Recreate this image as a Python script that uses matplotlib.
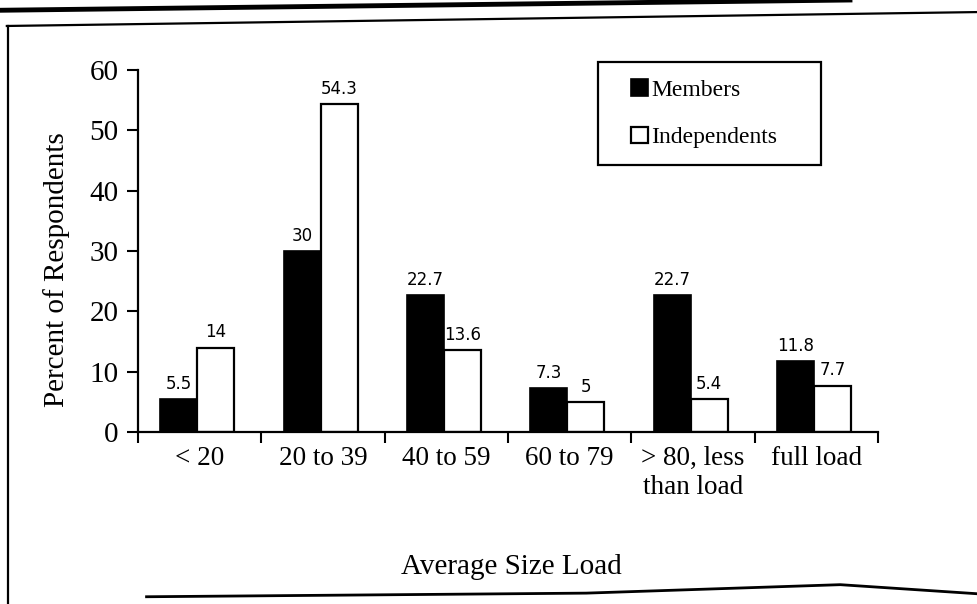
import matplotlib.pyplot as plt
import numpy as np
from matplotlib.lines import Line2D
from matplotlib.patches import Rectangle

categories = ['< 20', '20 to 39', '40 to 59', '60 to 79', '> 80, less\nthan load', 'full load']
members = [5.5, 30, 22.7, 7.3, 22.7, 11.8]
independents = [14, 54.3, 13.6, 5, 5.4, 7.7]
member_labels = ['5.5', '30', '22.7', '7.3', '22.7', '11.8']
independent_labels = ['14', '54.3', '13.6', '5', '5.4', '7.7']

serif = 'Liberation Serif'
sans = 'DejaVu Sans'

fig = plt.figure(figsize=(9.77, 6.04), dpi=100)
ax = fig.add_axes([0.1413, 0.2848, 0.7574, 0.5993])

x = np.arange(len(categories))
w = 0.3
b1 = ax.bar(x - w / 2 - 0.02, members, w, color='black', edgecolor='black',
            linewidth=1.2, label='Members')
b2 = ax.bar(x + w / 2 - 0.02, independents, w, color='white', edgecolor='black',
            linewidth=1.6, label='Independents')

for rect, lab in zip(b1, member_labels):
    ax.text(rect.get_x() + rect.get_width() / 2, rect.get_height() + 1.0, lab,
            ha='center', va='bottom', fontsize=12, family=sans)
for rect, lab in zip(b2, independent_labels):
    ax.text(rect.get_x() + rect.get_width() / 2, rect.get_height() + 1.0, lab,
            ha='center', va='bottom', fontsize=12, family=sans)

ax.set_xlim(-0.5, len(categories) - 0.5)
ax.set_ylim(0, 60)
ax.set_yticks(range(0, 61, 10))
ax.set_yticklabels([str(v) for v in range(0, 61, 10)], family=serif, fontsize=21)

# category labels sit between the tick marks, which mark the group edges
ax.set_xticks(x)
ax.set_xticklabels(categories, family=serif, fontsize=19.5, linespacing=1.2)
ax.tick_params(axis='x', which='major', length=0, pad=10)
ax.set_xticks(np.arange(-0.5, len(categories)), minor=True)
ax.tick_params(axis='x', which='minor', length=8, width=1.5, direction='out')
ax.tick_params(axis='y', length=8, width=1.5, direction='out', pad=6)

for s in ['top', 'right']:
    ax.spines[s].set_visible(False)
for s in ['left', 'bottom']:
    ax.spines[s].set_linewidth(1.6)

fig.text(0.058, 0.553, 'Percent of Respondents', family=serif, fontsize=21,
         rotation=90, ha='center', va='center')
fig.text(0.523, 0.061, 'Average Size Load', family=serif, fontsize=21,
         ha='center', va='center')

# legend box drawn separately so the inner spacing can match
fig.add_artist(Rectangle((598 / 977, 1 - 165 / 604), 223 / 977, 103 / 604,
                         transform=fig.transFigure, fill=False,
                         edgecolor='black', linewidth=1.6))
leg = ax.legend(loc='upper left', bbox_to_anchor=(631 / 977, 1 - 79 / 604),
                bbox_transform=fig.transFigure, frameon=False,
                handlelength=0.7, handleheight=0.7, handletextpad=0.15,
                labelspacing=1.1, borderpad=0, borderaxespad=0,
                prop={'family': serif, 'size': 17})

# scanned page frame
fig.add_artist(Line2D([0, 0.87], [0.983, 1.0], color='black', linewidth=3.5,
                      transform=fig.transFigure))
fig.add_artist(Line2D([0.007, 1], [0.957, 0.98], color='black', linewidth=1.6,
                      transform=fig.transFigure))
fig.add_artist(Line2D([0.008, 0.008], [0.957, 0.0], color='black', linewidth=1.6,
                      transform=fig.transFigure))
fig.add_artist(Line2D([0.15, 0.6, 0.86, 1.0], [0.012, 0.018, 0.032, 0.017],
                      color='black', linewidth=2, transform=fig.transFigure))

fig.savefig('out.png', dpi=100)
